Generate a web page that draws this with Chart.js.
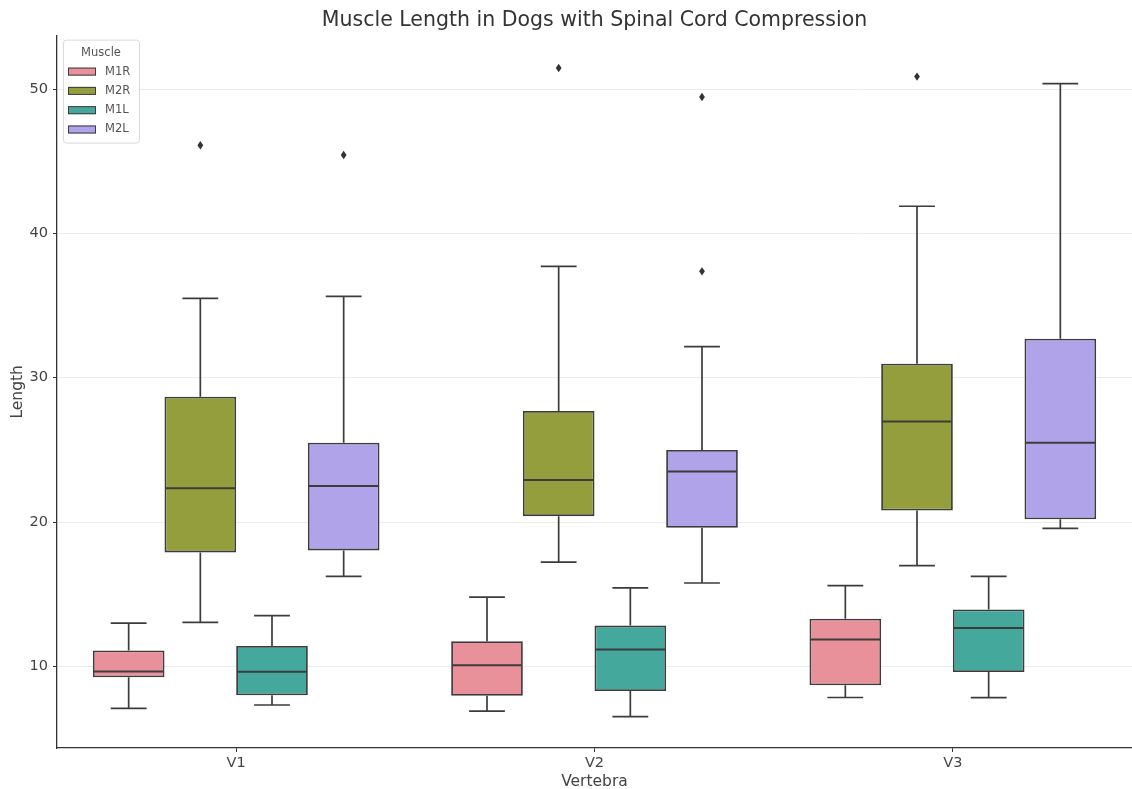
<!DOCTYPE html>
<html lang="en">
<head>
  <meta charset="UTF-8">
  <title>Muscle Length in Dogs with Spinal Cord Compression</title>
  <script src="https://cdn.jsdelivr.net/npm/chart.js"></script>
  <style>
    body {
      margin: 0;
      background-color: #fff;
    }
    #wrap {
      width: 1132px;
      height: 789px;
    }
  </style>
</head>
<body>

<div id="wrap">
  <canvas id="boxChart"></canvas>
</div>

<script>
  const categories = ['V1', 'V2', 'V3'];
  const muscles = ['M1R', 'M2R', 'M1L', 'M2L'];
  const yTicks = [10, 20, 30, 40, 50];

  // per muscle, one value per vertebra
  const m1rLow = [7.1, 6.9, 7.85];
  const m1rQ1 = [9.25, 7.97, 8.69];
  const m1rMed = [9.65, 10.09, 11.87];
  const m1rQ3 = [11.1, 11.75, 13.3];
  const m1rHigh = [13.0, 14.8, 15.6];
  const m1rOut = [[], [], []];

  const m2rLow = [13.05, 17.22, 16.98];
  const m2rQ1 = [17.9, 20.41, 20.8];
  const m2rMed = [22.35, 22.92, 26.97];
  const m2rQ3 = [28.68, 27.69, 30.97];
  const m2rHigh = [35.5, 37.72, 41.88];
  const m2rOut = [[46.1], [51.46], [50.86]];

  const m1lLow = [7.33, 6.52, 7.84];
  const m1lQ1 = [8.0, 8.29, 9.61];
  const m1lMed = [9.63, 11.17, 12.67];
  const m1lQ3 = [11.42, 12.83, 13.94];
  const m1lHigh = [13.52, 15.44, 16.24];
  const m1lOut = [[], [], []];

  const m2lLow = [16.24, 15.78, 19.56];
  const m2lQ1 = [18.04, 19.6, 20.19];
  const m2lMed = [22.5, 23.5, 25.49];
  const m2lQ3 = [25.5, 25.0, 32.7];
  const m2lHigh = [35.64, 32.16, 50.37];
  const m2lOut = [[45.43], [49.45, 37.37], []];

  const lows = [m1rLow, m2rLow, m1lLow, m2lLow];
  const q1s = [m1rQ1, m2rQ1, m1lQ1, m2lQ1];
  const meds = [m1rMed, m2rMed, m1lMed, m2lMed];
  const q3s = [m1rQ3, m2rQ3, m1lQ3, m2lQ3];
  const highs = [m1rHigh, m2rHigh, m1lHigh, m2lHigh];
  const outs = [m1rOut, m2rOut, m1lOut, m2lOut];

  const boxColors = ['#e9919b', '#949e3d', '#45a89d', '#b1a3e9'];
  const edgeColor = '#3c3c3c';

  Chart.defaults.font.family = "'DejaVu Sans', sans-serif";
  Chart.defaults.color = '#444';

  const datasets = muscles.map((m, i) => ({
    label: m,
    data: categories.map((c, j) => [q1s[i][j], q3s[i][j]]),
    backgroundColor: boxColors[i],
    borderColor: edgeColor,
    borderWidth: 1.8,
    borderSkipped: false,
    categoryPercentage: 0.8,
    barPercentage: 1.0
  }));

  // whiskers, caps, medians and outliers on top of the bar boxes
  const boxExtras = {
    id: 'boxExtras',
    afterDatasetsDraw(chart) {
      const ctx = chart.ctx;
      const y = chart.scales.y;
      ctx.save();
      ctx.strokeStyle = edgeColor;
      muscles.forEach((m, i) => {
        const meta = chart.getDatasetMeta(i);
        meta.data.forEach((bar, j) => {
          const x = bar.x;
          const w = bar.width;
          ctx.lineWidth = 1.7;
          ctx.beginPath();
          ctx.moveTo(x, y.getPixelForValue(q3s[i][j]));
          ctx.lineTo(x, y.getPixelForValue(highs[i][j]));
          ctx.moveTo(x - w / 4, y.getPixelForValue(highs[i][j]));
          ctx.lineTo(x + w / 4, y.getPixelForValue(highs[i][j]));
          ctx.moveTo(x, y.getPixelForValue(q1s[i][j]));
          ctx.lineTo(x, y.getPixelForValue(lows[i][j]));
          ctx.moveTo(x - w / 4, y.getPixelForValue(lows[i][j]));
          ctx.lineTo(x + w / 4, y.getPixelForValue(lows[i][j]));
          ctx.stroke();

          ctx.beginPath();
          ctx.lineWidth = 2;
          ctx.moveTo(x - w / 2 + 1, y.getPixelForValue(meds[i][j]));
          ctx.lineTo(x + w / 2 - 1, y.getPixelForValue(meds[i][j]));
          ctx.stroke();

          ctx.fillStyle = '#333';
          outs[i][j].forEach(v => {
            const py = y.getPixelForValue(v);
            ctx.beginPath();
            ctx.moveTo(x, py - 4.2);
            ctx.lineTo(x + 2.9, py);
            ctx.lineTo(x, py + 4.2);
            ctx.lineTo(x - 2.9, py);
            ctx.closePath();
            ctx.fill();
          });
        });
      });
      ctx.restore();
    },
    afterDraw(chart) {
      // legend box in the upper left corner of the plot
      const ctx = chart.ctx;
      const a = chart.chartArea;
      const lx = a.left + 6;
      const ly = a.top + 4;
      ctx.save();
      ctx.beginPath();
      ctx.roundRect(lx + 0.5, ly + 0.5, 76, 103, 3);
      ctx.fillStyle = 'rgba(255,255,255,0.85)';
      ctx.fill();
      ctx.strokeStyle = '#d9d9d9';
      ctx.lineWidth = 1;
      ctx.stroke();

      ctx.fillStyle = '#555';
      ctx.font = "11.5px 'DejaVu Sans'";
      ctx.textAlign = 'center';
      ctx.textBaseline = 'middle';
      ctx.fillText('Muscle', lx + 38, ly + 13);

      ctx.textAlign = 'left';
      muscles.forEach((m, i) => {
        const ry = ly + 32 + i * 19.3;
        ctx.fillStyle = boxColors[i];
        ctx.fillRect(lx + 5, ry - 4, 28, 8);
        ctx.strokeStyle = edgeColor;
        ctx.lineWidth = 1;
        ctx.strokeRect(lx + 5.5, ry - 3.5, 27, 7);
        ctx.fillStyle = '#555';
        ctx.fillText(m, lx + 42, ry);
      });
      ctx.restore();
    }
  };

  const ctx = document.getElementById('boxChart').getContext('2d');
  const boxChart = new Chart(ctx, {
    type: 'bar',
    data: {
      labels: categories,
      datasets: datasets
    },
    options: {
      responsive: true,
      maintainAspectRatio: false,
      animation: false,
      layout: {
        padding: { left: 0, right: 0, top: 0, bottom: 0 }
      },
      plugins: {
        legend: { display: false },
        tooltip: { enabled: false },
        title: {
          display: true,
          fullSize: false,
          text: 'Muscle Length in Dogs with Spinal Cord Compression',
          color: '#333',
          font: { size: 20.5, weight: 'normal' },
          padding: { top: 8, bottom: 3 }
        }
      },
      scales: {
        x: {
          type: 'category',
          offset: true,
          grid: {
            offset: false,
            drawOnChartArea: false,
            drawTicks: true,
            tickLength: 4,
            tickColor: '#333'
          },
          border: { display: true, color: '#333', width: 1.3 },
          ticks: { font: { size: 14.5 }, padding: 3, color: '#444' },
          title: {
            display: true,
            text: 'Vertebra',
            font: { size: 15.5 },
            color: '#444',
            padding: { top: 0, bottom: -2 }
          },
          afterFit(scale) { scale.height = 41; }
        },
        y: {
          min: 4.35,
          max: 53.7,
          grid: {
            color: '#ececec',
            lineWidth: 1,
            drawTicks: true,
            tickLength: 4,
            tickColor: '#333'
          },
          border: { display: true, color: '#333', width: 1.3 },
          ticks: { font: { size: 14.5 }, padding: 5, color: '#444' },
          afterBuildTicks(scale) {
            scale.ticks = yTicks.map(v => ({ value: v }));
          },
          title: {
            display: true,
            text: 'Length',
            font: { size: 15.5 },
            color: '#444',
            padding: { top: 9, bottom: 0 }
          },
          afterFit(scale) { scale.width = 57; }
        }
      }
    },
    plugins: [boxExtras]
  });
</script>
</body>
</html>
